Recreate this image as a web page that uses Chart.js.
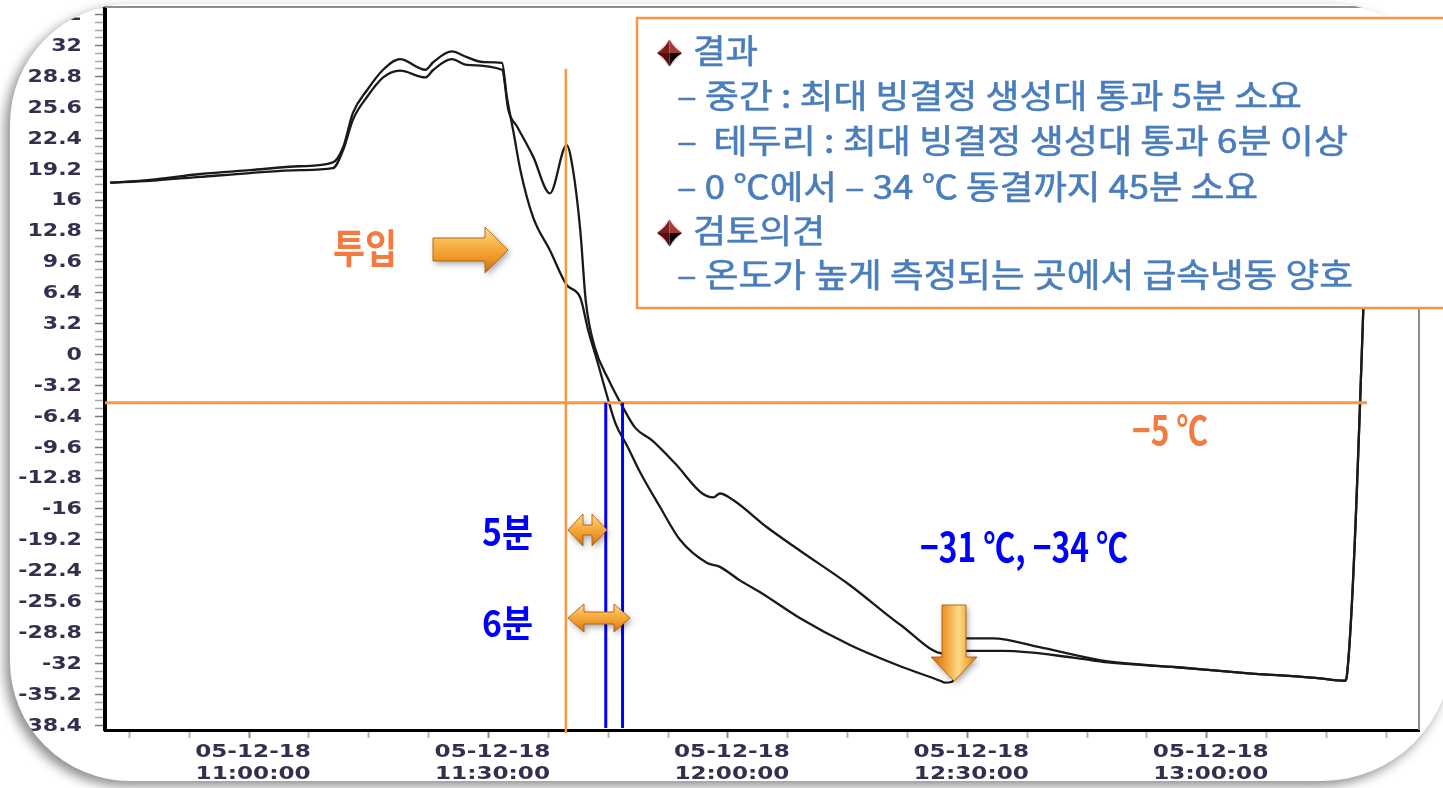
<!DOCTYPE html>
<html>
<head>
<meta charset="utf-8">
<script src="https://cdn.jsdelivr.net/npm/chart.js@4.4.1/dist/chart.umd.min.js"></script>
<style>
  html, body { margin: 0; padding: 0; background: #fff; overflow: hidden; }
  canvas { display: block; }
</style>
</head>
<body>
<canvas id="c" width="1443" height="788"></canvas>
<script>
// Logged temperatures, time in minutes after 11:00 (05-12-18)
const timesMid = [-17.4, -12.4, -6.1, 0.1, 6.4, 10.5, 11.8, 13.0, 14.8, 16.8, 18.9, 22.1, 23.1, 25.4, 27.3, 29.3, 31.7,
  32.3, 33.1, 34.0, 35.6, 37.7, 39.8, 41.5, 42.5, 43.6, 44.9, 45.9, 47.4, 49.0, 51.5, 54.0, 57.4, 59.0, 61.5, 64.0,
  69.0, 75.3, 81.6, 86.6, 87.2, 88.1, 89.8, 94.6, 103.3, 107.6, 116.3, 124.9, 133.6, 137.3, 137.6, 140.8];
const tempsMid = [17.8, 18.1, 18.7, 19.1, 19.5, 19.9, 21.5, 25.0, 27.4, 29.5, 30.6, 29.5, 30.3, 31.4, 30.8, 30.3, 30.2,
  26.7, 23.2, 19.1, 14.2, 10.8, 7.2, 5.9, 2.5, -0.6, -4.4, -7.1, -9.5, -12.2, -15.8, -19.2, -21.6, -22.0, -23.4, -24.6,
  -27.3, -30.1, -32.3, -33.8, -34.0, -33.9, -30.7, -30.7, -31.4, -31.9, -32.4, -33.0, -33.5, -33.8, -33.0, 32.0];

const timesEdge = [-17.4, -12.4, -6.1, 0.1, 6.4, 10.5, 11.8, 13.0, 14.8, 16.8, 18.9, 22.1, 23.1, 25.4, 27.3, 31.7,
  32.5, 33.6, 35.6, 37.7, 39.8, 40.6, 41.5, 42.2, 43.3, 45.1, 46.8, 48.4, 50.5, 53.4, 56.8, 58.2, 59.0, 60.7, 64.9,
  69.0, 75.3, 81.6, 87.2, 89.8, 93.2, 98.9, 105.0, 107.6, 116.3, 124.9, 133.6, 137.3, 137.6, 140.8];
const tempsEdge = [17.8, 18.0, 18.4, 18.8, 19.1, 19.3, 21.2, 24.3, 26.7, 28.7, 29.4, 28.7, 29.5, 30.6, 30.0, 29.5,
  25.3, 23.6, 20.5, 16.7, 21.7, 19.1, 12.9, 5.5, 0.8, -2.7, -5.4, -7.6, -8.9, -11.3, -14.4, -14.8, -14.4, -15.1, -17.9,
  -20.3, -23.9, -28.0, -31.0, -29.4, -29.4, -30.3, -31.4, -31.8, -32.4, -33.0, -33.5, -33.8, -33.0, 32.0];

// Axis ranges and ticks
const xMin = -18.05, xMax = 146.6;        // minutes after 11:00
const yMin = -38.9, yMax = 36.0;          // °C
const xLabelMinutes = [0, 30, 60, 90, 120];
const xLabelDate = '05-12-18';
const xLabelTimes = ['11:00:00', '11:30:00', '12:00:00', '12:30:00', '13:00:00'];
const xMinorStep = 7.5;
const yMinorStep = 0.8;
const yLabelStep = 3.2;

// Reference marks
const freezeLimit = -5;                 // −5 ℃ line
const inputMinute = 39.7;               // 투입 time
const inputLineTop = 29.6;
const passMinutes = [44.7, 46.8];       // −5 ℃ reached (중간, 테두리)
const freezeLineEnd = 140.1;

const boxLines = [
  { text: '결과', bullet: true },
  { text: '– 중간 : 최대 빙결정 생성대 통과 5분 소요' },
  { text: '–  테두리 : 최대 빙결정 생성대 통과 6분 이상' },
  { text: '– 0 ℃에서 – 34 ℃ 동결까지 45분 소요' },
  { text: '검토의견', bullet: true },
  { text: '– 온도가 높게 측정되는 곳에서 급속냉동 양호' }
];

const isMajorY = v => Math.abs(v / yLabelStep - Math.round(v / yLabelStep)) < 1e-6;
const isMajorX = v => Math.abs(v / 30 - Math.round(v / 30)) < 1e-6;

function cardPath(ctx) {
  const L = 10, T = 4, R = 1452, B = 781, tl = 120, tr = 120, br = 130, bl = 120;
  ctx.beginPath();
  ctx.moveTo(L + tl, T);
  ctx.lineTo(R - tr, T);
  ctx.arcTo(R, T, R, T + tr, tr);
  ctx.lineTo(R, B - br);
  ctx.arcTo(R, B, R - br, B, br);
  ctx.lineTo(L + bl, B);
  ctx.arcTo(L, B, L, B - bl, bl);
  ctx.lineTo(L, T + tl);
  ctx.arcTo(L, T, L + tl, T, tl);
  ctx.closePath();
}

function stretchedText(ctx, str, x, y, sx, align) {
  ctx.save();
  ctx.translate(x, y);
  ctx.scale(sx, 1);
  ctx.textAlign = align;
  ctx.fillText(str, 0, 0);
  ctx.restore();
}

// text fitted to a width, vertically centred on the ink
function fitText(ctx, str, left, cy, width, size, weight, color, thicken) {
  ctx.save();
  ctx.font = weight + ' ' + size + 'px "Noto Sans CJK KR", "Noto Sans", sans-serif';
  ctx.fillStyle = color;
  ctx.textBaseline = 'alphabetic';
  ctx.textAlign = 'left';
  const w = ctx.measureText(str).width;
  ctx.translate(left, cy + 0.375 * size);
  ctx.scale(width / w, 1);
  ctx.fillText(str, 0, 0);
  if (thicken) {
    ctx.strokeStyle = color;
    ctx.lineWidth = thicken;
    ctx.lineJoin = 'round';
    ctx.strokeText(str, 0, 0);
  }
  ctx.restore();
}

function polygon(ctx, pts) {
  ctx.beginPath();
  pts.forEach((p, i) => i ? ctx.lineTo(p[0], p[1]) : ctx.moveTo(p[0], p[1]));
  ctx.closePath();
}

function drawArrow(ctx, pts, grad) {
  ctx.save();
  ctx.shadowColor = 'rgba(0,0,0,0.35)';
  ctx.shadowBlur = 6;
  ctx.shadowOffsetX = 2;
  ctx.shadowOffsetY = 3;
  polygon(ctx, pts);
  ctx.fillStyle = grad;
  ctx.fill();
  ctx.restore();
  ctx.save();
  polygon(ctx, pts);
  ctx.strokeStyle = 'rgba(176,96,18,0.9)';
  ctx.lineWidth = 1;
  ctx.stroke();
  ctx.restore();
}

function hGrad(ctx, y0, y1) {
  const g = ctx.createLinearGradient(0, y0, 0, y1);
  g.addColorStop(0, '#fde08f');
  g.addColorStop(0.35, '#f9b54a');
  g.addColorStop(0.7, '#ee9426');
  g.addColorStop(1, '#c86a10');
  return g;
}

function drawBullet(ctx, cx, cy) {
  const w = 12.5, h = 13.5;
  const top = [cx, cy - h], right = [cx + w, cy], bottom = [cx, cy + h], left = [cx - w, cy], c = [cx, cy];
  const facets = [
    [[top, c, left], '#7a1d1d'],
    [[top, right, c], '#a83a36'],
    [[left, c, bottom], '#5a0c0c'],
    [[c, right, bottom], '#0d0505']
  ];
  facets.forEach(([pts, col]) => { polygon(ctx, pts); ctx.fillStyle = col; ctx.fill(); });
  // slightly concave sides
  ctx.save();
  ctx.fillStyle = '#fff';
  [[top, right], [right, bottom], [bottom, left], [left, top]].forEach(([a, b]) => {
    ctx.beginPath();
    ctx.moveTo(a[0], a[1]);
    ctx.quadraticCurveTo((a[0] + b[0]) / 2 + (cx - (a[0] + b[0]) / 2) * 0.25, (a[1] + b[1]) / 2 + (cy - (a[1] + b[1]) / 2) * 0.25, b[0], b[1]);
    ctx.closePath();
    ctx.fill();
  });
  ctx.restore();
}

const sheetPlugin = {
  id: 'sheet',
  beforeDraw(chart) {
    const ctx = chart.ctx;
    ctx.save();
    ctx.shadowColor = 'rgba(0,0,0,0.45)';
    ctx.shadowBlur = 12;
    ctx.shadowOffsetX = -5;
    ctx.shadowOffsetY = 5;
    cardPath(ctx);
    ctx.fillStyle = '#fff';
    ctx.fill();
    ctx.restore();
    ctx.save();
    cardPath(ctx);
    ctx.clip();
  },
  beforeDatasetsDraw(chart) {
    const { ctx, chartArea: a } = chart;
    ctx.save();
    ctx.strokeStyle = '#8e8e8e';
    ctx.lineWidth = 2;
    ctx.beginPath();
    ctx.moveTo(a.left, a.top);
    ctx.lineTo(a.right, a.top);
    ctx.lineTo(a.right, a.bottom);
    ctx.stroke();
    ctx.restore();
  },
  afterDatasetsDraw(chart) {
    const { ctx, chartArea: a, scales: { x, y } } = chart;
    ctx.save();
    // −5 ℃ line
    ctx.strokeStyle = '#f79646';
    ctx.lineWidth = 3;
    ctx.beginPath();
    ctx.moveTo(a.left, y.getPixelForValue(freezeLimit));
    ctx.lineTo(x.getPixelForValue(freezeLineEnd), y.getPixelForValue(freezeLimit));
    ctx.stroke();
    // 투입 line
    ctx.lineWidth = 2.5;
    ctx.beginPath();
    ctx.moveTo(x.getPixelForValue(inputMinute), y.getPixelForValue(inputLineTop));
    ctx.lineTo(x.getPixelForValue(inputMinute), a.bottom + 3);
    ctx.stroke();
    // −5 ℃ reached
    ctx.strokeStyle = '#0000ff';
    ctx.lineWidth = 3;
    passMinutes.forEach(m => {
      ctx.beginPath();
      ctx.moveTo(x.getPixelForValue(m), y.getPixelForValue(freezeLimit));
      ctx.lineTo(x.getPixelForValue(m), a.bottom - 2);
      ctx.stroke();
    });
    ctx.restore();
  },
  afterDraw(chart) {
    const { ctx, scales: { x, y } } = chart;
    // tick labels
    ctx.save();
    ctx.fillStyle = '#33304f';
    ctx.font = 'bold 17px "DejaVu Sans", sans-serif';
    ctx.textBaseline = 'middle';
    y.ticks.forEach(t => {
      if (!isMajorY(t.value)) return;
      const label = String(Math.round(t.value * 10) / 10);
      stretchedText(ctx, label, 82, y.getPixelForValue(t.value) + 1, 1.3, 'right');
    });
    xLabelMinutes.forEach((m, i) => {
      const px = x.getPixelForValue(m) + 4;
      stretchedText(ctx, xLabelDate, px, 753, 1.36, 'center');
      stretchedText(ctx, xLabelTimes[i], px, 775, 1.36, 'center');
    });
    ctx.restore();
    ctx.restore(); // end of sheet clip

    // result box
    ctx.save();
    ctx.fillStyle = '#fff';
    ctx.fillRect(637, 18, 830, 290);
    ctx.strokeStyle = '#f79646';
    ctx.lineWidth = 2.5;
    ctx.strokeRect(637, 18, 830, 290);
    ctx.restore();
    const boxLayout = [
      { left: 693, cy: 51, width: 65 },
      { left: 677, cy: 96, width: 625 },
      { left: 677, cy: 141, width: 671 },
      { left: 677, cy: 187, width: 581 },
      { left: 693, cy: 231, width: 132 },
      { left: 677, cy: 275, width: 676 }
    ];
    boxLines.forEach((ln, i) => {
      const p = boxLayout[i];
      if (ln.bullet) drawBullet(ctx, 669.5, p.cy + 2);
      fitText(ctx, ln.text, p.left, p.cy, p.width, 33, 'normal', '#4a7ebb', 0.6);
    });

    // notes on the plot
    fitText(ctx, '투입', 333, 248, 64, 40, 'bold', '#f47b40');
    fitText(ctx, '5분', 482, 532, 51, 38, 'bold', '#0000ff');
    fitText(ctx, '6분', 482, 623, 51, 37, 'bold', '#0000ff');
    fitText(ctx, '−5 ℃', 1132, 430, 76, 40, 'bold', '#f47b40');
    fitText(ctx, '−31 ℃, −34 ℃', 920, 547, 208, 40, 'bold', '#0000ff');

    // arrows
    drawArrow(ctx, [[433, 238], [485, 238], [485, 227], [508, 250], [485, 273], [485, 261], [433, 261]], hGrad(ctx, 227, 273));
    drawArrow(ctx, [[568, 530], [583, 514], [583, 525], [592, 525], [592, 514], [607, 530], [592, 546], [592, 535], [583, 535], [583, 546]], hGrad(ctx, 514, 546));
    drawArrow(ctx, [[568, 618], [584, 604], [584, 612], [614, 612], [614, 604], [630, 618], [614, 632], [614, 624], [584, 624], [584, 632]], hGrad(ctx, 604, 632));
    const dg = ctx.createLinearGradient(931, 0, 977, 0);
    dg.addColorStop(0, '#c86a10');
    dg.addColorStop(0.3, '#ef9a2e');
    dg.addColorStop(0.6, '#fdd986');
    dg.addColorStop(0.8, '#f6ac3e');
    dg.addColorStop(1, '#cc6c12');
    drawArrow(ctx, [[942, 605], [966, 605], [966, 657], [977, 657], [954, 681], [931, 657], [942, 657]], dg);
  }
};

const toPoints = (ts, vs) => ts.map((t, i) => ({ x: t, y: vs[i] }));

new Chart(document.getElementById('c').getContext('2d'), {
  type: 'line',
  data: {
    datasets: [
      { label: '중간', data: toPoints(timesMid, tempsMid), borderColor: '#1a1a1a', borderWidth: 2.3,
        pointRadius: 0, cubicInterpolationMode: 'monotone', fill: false },
      { label: '테두리', data: toPoints(timesEdge, tempsEdge), borderColor: '#1a1a1a', borderWidth: 2.3,
        pointRadius: 0, cubicInterpolationMode: 'monotone', fill: false }
    ]
  },
  options: {
    responsive: false,
    animation: false,
    devicePixelRatio: 1,
    layout: { padding: { left: 0, top: 7, right: 24, bottom: 0 } },
    plugins: { legend: { display: false }, tooltip: { enabled: false } },
    scales: {
      x: {
        type: 'linear', min: xMin, max: xMax,
        ticks: { stepSize: xMinorStep, includeBounds: false, display: false },
        grid: { drawOnChartArea: false, tickLength: 8,
          tickColor: c => isMajorX(c.tick.value) ? '#8a8a8a' : '#b5b5b5', tickWidth: 2 },
        border: { color: '#000', width: 3 },
        afterFit(s) { s.height = 58; }
      },
      y: {
        type: 'linear', min: yMin, max: yMax,
        ticks: { stepSize: yMinorStep, includeBounds: false, display: false },
        grid: { drawOnChartArea: false, tickLength: 10,
          tickColor: c => isMajorY(c.tick.value) ? '#7a7a7a' : '#a8a8a8', tickWidth: 1.5 },
        border: { color: '#000', width: 4 },
        afterFit(s) { s.width = 105; }
      }
    }
  },
  plugins: [sheetPlugin]
});
</script>
</body>
</html>
